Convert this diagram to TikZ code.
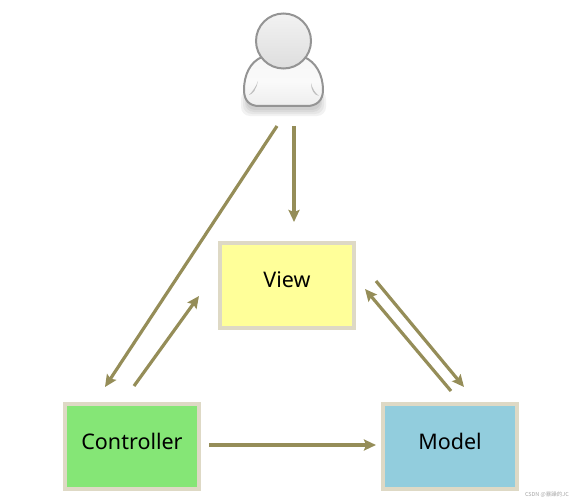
\documentclass[tikz,border=0pt]{standalone}
\usepackage{fontspec}
\setmainfont{Noto Sans}
\newfontfamily\cjkwm{Noto Sans CJK SC}
\usetikzlibrary{arrows.meta,shadings,fadings}
\definecolor{arrowc}{HTML}{958D58}
\definecolor{borderc}{HTML}{DED9C5}
\definecolor{viewc}{HTML}{FFFF99}
\definecolor{ctrlc}{HTML}{85E676}
\definecolor{modelc}{HTML}{92CDDD}
\newcommand{\mvclabel}[1]{\raisebox{10pt}{#1}}
\tikzset{
 mvcbox/.style={draw=borderc,line width=4pt,minimum width=134pt,minimum height=85pt,inner sep=0pt,font=\fontsize{21.5}{26}\selectfont,text=black},
 flow/.style={draw=arrowc,line width=3.2pt,-{Stealth[length=12pt,width=11pt,inset=2pt]}},
 softshadow/.style={fill=black,opacity=0.05,rounded corners=9pt}
}
\begin{document}
\begin{tikzpicture}[x=1pt,y=-1pt]
\useasboundingbox (0,0) rectangle (572,500);
% person: soft shadow
\fill[softshadow] (241,90) rectangle (326,116);
\fill[softshadow] (243,90) rectangle (324,114);
\fill[softshadow] (245,90) rectangle (322,112);
\fill[softshadow] (246,90) rectangle (321,110);
% person: body
\path[draw=black!42,line width=2pt,top color=black!3,bottom color=black!7,middle color=black!2]
 (262,57) .. controls (250,62) and (244,75) .. (244,90)
 .. controls (244,101) and (250,106) .. (259,106) -- (307,106)
 .. controls (316,106) and (323,101) .. (323,90)
 .. controls (323,75) and (316,62) .. (304,57) -- cycle;
\fill[black!25] (258,81) .. controls (256,87) and (252,92) .. (249,95) .. controls (253,94) and (256,90) .. (258,81);
\fill[black!25] (311,83) .. controls (312,88) and (315,93) .. (319,96) .. controls (314,95) and (311,90) .. (311,83);
% person: head
\shade[draw=black!42,line width=2pt,top color=black!5,bottom color=black!13] (283.5,41) circle (27.5);
% boxes
\node[mvcbox,fill=viewc] (view) at (287,285) {\mvclabel{View}};
\node[mvcbox,fill=ctrlc] (ctrl) at (132,446.5) {\mvclabel{Controller}};
\node[mvcbox,fill=modelc] (model) at (450,446.5) {\mvclabel{Model}};
% connector ends
\coordinate (pa) at (294,126);
\coordinate (va) at (294,222);
\coordinate (pb) at (277,126);
\coordinate (cb) at (105,387);
\coordinate (cc) at (134,386);
\coordinate (vc) at (199,296);
\coordinate (cd) at (209,445);
\coordinate (md) at (376,445);
\coordinate (ve) at (376,281);
\coordinate (me) at (464,387);
\coordinate (mf) at (451,391);
\coordinate (vf) at (365,289);
\draw[flow] (pa) -- (va);
\draw[flow] (pb) -- (cb);
\draw[flow] (cc) -- (vc);
\draw[flow] (cd) -- (md);
\draw[flow] (ve) -- (me);
\draw[flow] (mf) -- (vf);
\node[anchor=east,inner sep=0pt,text=black!35,font=\cjkwm\fontsize{5.5}{6}\selectfont] (wm) at (569,494.5) {CSDN @暴躁的JC};
\end{tikzpicture}
\end{document}
